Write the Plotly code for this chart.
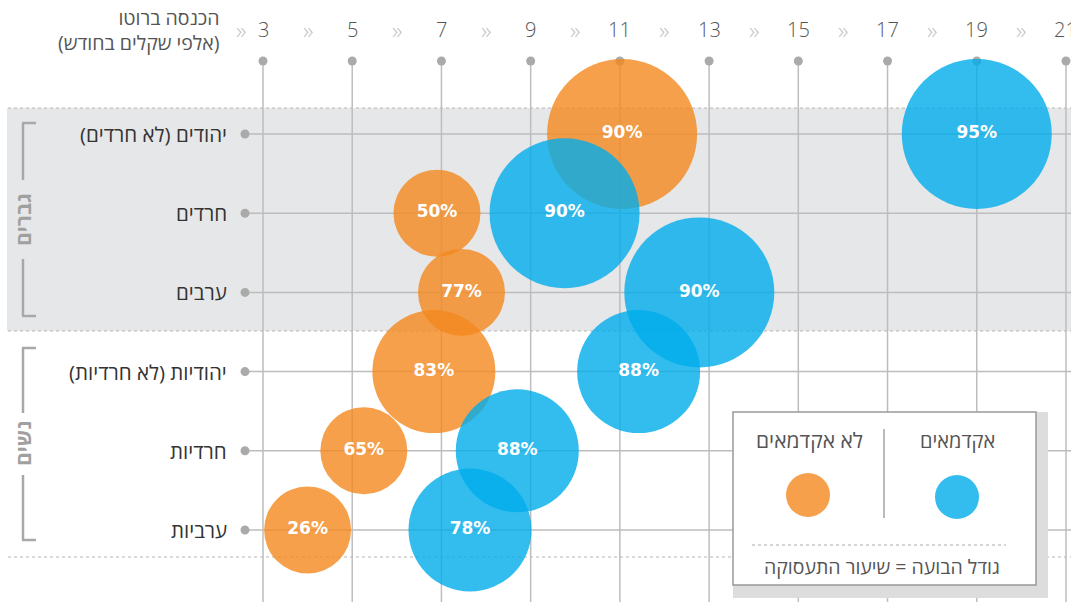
import plotly.graph_objects as go

W, H = 1071, 602

# ---------------- data ----------------
categories = ["יהודים (לא חרדים)", "חרדים", "ערבים",
              "יהודיות (לא חרדיות)", "חרדיות", "ערביות"]
groups = ["גברים", "נשים"]
income_non_academic = [11.05, 6.9, 7.45, 6.83, 5.26, 4.0]   # thousand NIS / month
rate_non_academic = [90, 50, 77, 83, 65, 26]                # employment rate %
income_academic = [19.0, 9.76, 12.78, 11.42, 8.7, 7.64]
rate_academic = [95, 90, 90, 88, 88, 78]
x_ticks = [3, 5, 7, 9, 11, 13, 15, 17, 19, 21]
x_title = "הכנסה ברוטו<br>\u200f(אלפי שקלים בחודש)\u200f"
legend_academic = "אקדמאים"
legend_non_academic = "לא אקדמאים"
legend_note = "גודל הבועה = שיעור התעסוקה"

# ---------------- styles ----------------
ORANGE = "#F4881E"
BLUE = "#00ACEB"
ALPHA = 0.8
GRID = "#BDBDBD"
FONT = "Open Sans"

def bubble_size(rate):
    # employment rate shown in three size classes (diameter px)
    if rate >= 90:
        return 150
    if rate >= 78:
        return 123
    return 87

def fx(p):
    return p / W

def fy(p):
    return 1 - p / H

rtl = lambda s: "\u200f" + s + "\u200f"

fig = go.Figure()

fig.add_trace(go.Scatter(
    x=income_non_academic, y=categories, mode="markers+text",
    marker=dict(size=[bubble_size(r) for r in rate_non_academic], color=ORANGE,
                opacity=ALPHA, line=dict(width=0)),
    text=[f"{r}%" for r in rate_non_academic], textposition="middle center",
    textfont=dict(color="white", size=17, family="DejaVu Sans", weight="bold"),
    hoverinfo="skip", name=legend_non_academic))

fig.add_trace(go.Scatter(
    x=income_academic, y=categories, mode="markers+text",
    marker=dict(size=[bubble_size(r) for r in rate_academic], color=BLUE,
                opacity=ALPHA, line=dict(width=0)),
    text=[f"{r}%" for r in rate_academic], textposition="middle center",
    textfont=dict(color="white", size=17, family="DejaVu Sans", weight="bold"),
    hoverinfo="skip", name=legend_academic))

shapes = []
# gray band for men
shapes.append(dict(type="rect", xref="paper", yref="paper", x0=fx(7), x1=1,
                   y0=fy(331), y1=fy(108), fillcolor="#E6E7E8", line=dict(width=0),
                   layer="below"))
for yy in (108, 331, 557):
    shapes.append(dict(type="line", xref="paper", yref="paper", x0=fx(8), x1=1,
                       y0=fy(yy), y1=fy(yy), line=dict(color="#B5B5B5", width=1, dash="dot"),
                       layer="below"))
# vertical grid lines + top dots
for t in x_ticks:
    shapes.append(dict(type="line", xref="x", yref="paper", x0=t, x1=t,
                       y0=fy(61), y1=0, line=dict(color=GRID, width=1.5), layer="below"))
    shapes.append(dict(type="circle", xref="x", yref="paper", xsizemode="pixel",
                       ysizemode="pixel", xanchor=t, yanchor=fy(61),
                       x0=-4.5, x1=4.5, y0=-4.5, y1=4.5, fillcolor="#AAAAAA",
                       line=dict(width=0), layer="below"))
# row lines + dots
for i, c in enumerate(categories):
    shapes.append(dict(type="line", xref="paper", yref="y", x0=fx(245), x1=1,
                       y0=i, y1=i, line=dict(color=GRID, width=1.5), layer="below"))
    shapes.append(dict(type="circle", xref="paper", yref="y", xsizemode="pixel",
                       ysizemode="pixel", xanchor=fx(245), yanchor=i,
                       x0=-4.5, x1=4.5, y0=-4.5, y1=4.5, fillcolor="#AAAAAA",
                       line=dict(width=0), layer="below"))
# group brackets
BR = dict(color="#A8A8A8", width=2.5)
for (top, gap1, gap2, bot) in [(123, 180, 259, 316), (348, 413, 475, 540)]:
    shapes.append(dict(type="line", xref="paper", yref="paper", x0=fx(23), x1=fx(23),
                       y0=fy(top), y1=fy(gap1), line=BR))
    shapes.append(dict(type="line", xref="paper", yref="paper", x0=fx(23), x1=fx(23),
                       y0=fy(gap2), y1=fy(bot), line=BR))
    shapes.append(dict(type="line", xref="paper", yref="paper", x0=fx(22), x1=fx(36),
                       y0=fy(top), y1=fy(top), line=BR))
    shapes.append(dict(type="line", xref="paper", yref="paper", x0=fx(22), x1=fx(36),
                       y0=fy(bot), y1=fy(bot), line=BR))
# legend box
shapes.append(dict(type="rect", xref="paper", yref="paper", x0=fx(733), x1=fx(1048),
                   y0=fy(598), y1=fy(412), fillcolor="#DDDDDD", line=dict(width=0),
                   layer="above"))
shapes.append(dict(type="rect", xref="paper", yref="paper", x0=fx(733), x1=fx(1036),
                   y0=fy(585), y1=fy(412), fillcolor="white",
                   line=dict(color="#999999", width=1.5), layer="above"))
shapes.append(dict(type="line", xref="paper", yref="paper", x0=fx(884), x1=fx(884),
                   y0=fy(518), y1=fy(429), line=dict(color="#777777", width=1),
                   layer="above"))
shapes.append(dict(type="line", xref="paper", yref="paper", x0=fx(752), x1=fx(1006),
                   y0=fy(545), y1=fy(545), line=dict(color="#AAAAAA", width=1, dash="dot"),
                   layer="above"))
for cx, cy, col in [(808, 495, ORANGE), (957, 497, BLUE)]:
    shapes.append(dict(type="circle", xref="paper", yref="paper", x0=fx(cx - 22),
                       x1=fx(cx + 22), y0=fy(cy + 22), y1=fy(cy - 22), fillcolor=col,
                       opacity=ALPHA, line=dict(width=0), layer="above"))

ann = []
for t in x_ticks:
    ann.append(dict(x=t, xref="x", y=fy(29), yref="paper", text=str(t), showarrow=False,
                    xanchor="center", yanchor="middle",
                    font=dict(family=FONT, size=20, color="#555555", weight=300)))
for m in [2.5] + [t + 1 for t in x_ticks[:-1]]:
    ann.append(dict(x=m, xref="x", y=fy(30), yref="paper", text="»", showarrow=False,
                    xanchor="center", yanchor="middle",
                    font=dict(family=FONT, size=24, color="#C4C4C4", weight=300)))
ann.append(dict(x=fx(222), xref="paper", y=fy(30), yref="paper", text=x_title,
                showarrow=False, xanchor="right", yanchor="middle", align="right",
                font=dict(family=FONT, size=19.5, color="#555555")))
for c in categories:
    ann.append(dict(x=fx(229), xref="paper", y=c, yref="y", text=rtl(c), showarrow=False,
                    xanchor="right", yanchor="middle",
                    font=dict(family=FONT, size=20.5, color="#333333")))
for g, cy in zip(groups, [220, 444]):
    ann.append(dict(x=fx(23), xref="paper", y=fy(cy), yref="paper", text=g, showarrow=False,
                    textangle=-90, xanchor="center", yanchor="middle",
                    font=dict(family=FONT, size=21, color="#A0A0A0", weight="bold")))
ann.append(dict(x=fx(957), xref="paper", y=fy(440), yref="paper", text=legend_academic,
                showarrow=False, xanchor="center", yanchor="middle",
                font=dict(family=FONT, size=20, color="#555555")))
ann.append(dict(x=fx(809), xref="paper", y=fy(440), yref="paper", text=legend_non_academic,
                showarrow=False, xanchor="center", yanchor="middle",
                font=dict(family=FONT, size=21, color="#555555")))
ann.append(dict(x=fx(882), xref="paper", y=fy(566), yref="paper", text=legend_note,
                showarrow=False, xanchor="center", yanchor="middle",
                font=dict(family=FONT, size=19.5, color="#555555")))

x_left = 3 - 263 / 44.61
x_right = 3 + (W - 263) / 44.61
y_top = -134 / 79.2
y_bot = (H - 134) / 79.2

fig.update_layout(
    width=W, height=H, margin=dict(l=0, r=0, t=0, b=0),
    plot_bgcolor="white", paper_bgcolor="white", showlegend=False, hovermode=False,
    xaxis=dict(range=[x_left, x_right], visible=False, fixedrange=True),
    yaxis=dict(type="category", categoryorder="array", categoryarray=categories,
               range=[y_bot, y_top], visible=False, fixedrange=True),
    shapes=shapes, annotations=ann,
)

fig.write_html("out.html", config={"displayModeBar": False},
               post_script="document.body.style.margin='0';document.body.style.overflow='hidden';")
